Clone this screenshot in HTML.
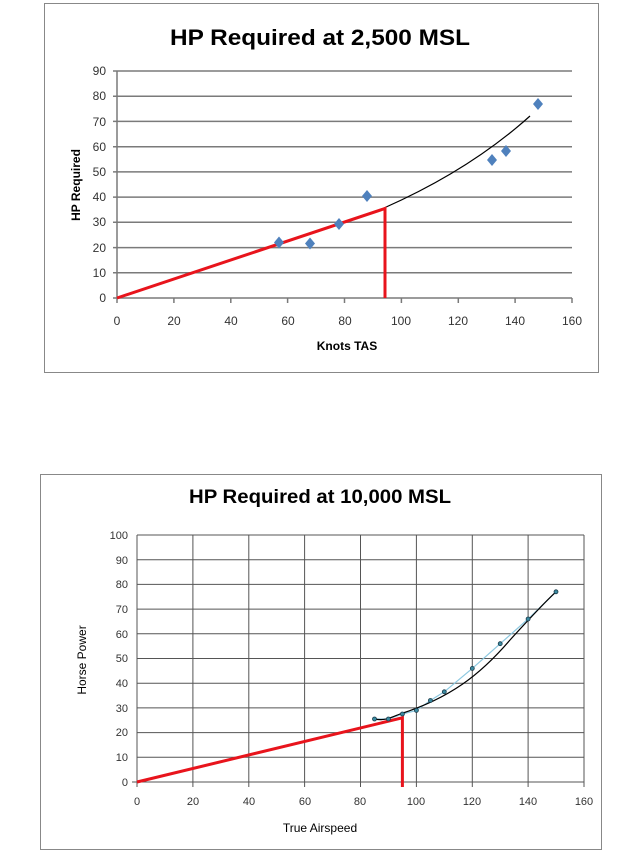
<!DOCTYPE html>
<html><head><meta charset="utf-8"><style>body{margin:0;background:#fff}svg{display:block}</style></head>
<body>
<svg width="637" height="856" xmlns="http://www.w3.org/2000/svg" font-family="Liberation Sans, sans-serif">
<rect width="637" height="856" fill="#fff"/>
<!-- Top chart -->
<rect x="44.5" y="3.5" width="554" height="369" fill="#fff" stroke="#888" stroke-width="1"/>
<text x="320" y="45" font-size="22" font-weight="bold" text-anchor="middle" fill="#000" textLength="300" lengthAdjust="spacingAndGlyphs">HP Required at 2,500 MSL</text>
<g stroke="#7a7a7a" stroke-width="1.5">
<line x1="113" y1="71" x2="572" y2="71"/><line x1="113" y1="96.2" x2="572" y2="96.2"/><line x1="113" y1="121.4" x2="572" y2="121.4"/><line x1="113" y1="146.7" x2="572" y2="146.7"/><line x1="113" y1="171.9" x2="572" y2="171.9"/><line x1="113" y1="197.1" x2="572" y2="197.1"/><line x1="113" y1="222.3" x2="572" y2="222.3"/><line x1="113" y1="247.6" x2="572" y2="247.6"/><line x1="113" y1="272.8" x2="572" y2="272.8"/><line x1="113" y1="298" x2="572" y2="298"/>
<line x1="117" y1="71" x2="117" y2="298"/>
<line x1="117" y1="298" x2="117" y2="303"/><line x1="173.9" y1="298" x2="173.9" y2="303"/><line x1="230.8" y1="298" x2="230.8" y2="303"/><line x1="287.6" y1="298" x2="287.6" y2="303"/><line x1="344.5" y1="298" x2="344.5" y2="303"/><line x1="401.4" y1="298" x2="401.4" y2="303"/><line x1="458.3" y1="298" x2="458.3" y2="303"/><line x1="515.1" y1="298" x2="515.1" y2="303"/><line x1="572" y1="298" x2="572" y2="303"/>
</g>
<g font-size="12" fill="#333" text-anchor="end">
<text x="106" y="75">90</text><text x="106" y="100">80</text><text x="106" y="126">70</text><text x="106" y="151">60</text><text x="106" y="176">50</text><text x="106" y="201">40</text><text x="106" y="226">30</text><text x="106" y="252">20</text><text x="106" y="277">10</text><text x="106" y="302">0</text>
</g>
<g font-size="12" fill="#333" text-anchor="middle">
<text x="117" y="325">0</text><text x="174" y="325">20</text><text x="231" y="325">40</text><text x="288" y="325">60</text><text x="345" y="325">80</text><text x="401" y="325">100</text><text x="458" y="325">120</text><text x="515" y="325">140</text><text x="572" y="325">160</text>
</g>
<text x="347" y="350" font-size="12" font-weight="bold" text-anchor="middle">Knots TAS</text>
<text transform="translate(80,185) rotate(-90)" font-size="12" font-weight="bold" text-anchor="middle">HP  Required</text>
<path d="M384,208 Q470,170 530,116" fill="none" stroke="#000" stroke-width="1.2"/>
<polyline points="117,298 385,208.5 385,298" fill="none" stroke="#e8141c" stroke-width="3"/>
<g fill="#4f81bd">
<path d="M279,236.5 l5,6 -5,6 -5,-6z"/><path d="M310,237.5 l5,6 -5,6 -5,-6z"/><path d="M339,218 l5,6 -5,6 -5,-6z"/><path d="M367,190 l5,6 -5,6 -5,-6z"/><path d="M492,154 l5,6 -5,6 -5,-6z"/><path d="M506,145 l5,6 -5,6 -5,-6z"/><path d="M538,98 l5,6 -5,6 -5,-6z"/>
</g>
<!-- Bottom chart -->
<rect x="40.5" y="474.5" width="561" height="375" fill="#fff" stroke="#888" stroke-width="1"/>
<text x="320" y="503" font-size="19" font-weight="bold" text-anchor="middle" fill="#000" textLength="262" lengthAdjust="spacingAndGlyphs">HP Required at 10,000 MSL</text>
<g stroke="#555" stroke-width="1">
<line x1="137" y1="535" x2="584" y2="535"/><line x1="137" y1="559.7" x2="584" y2="559.7"/><line x1="137" y1="584.4" x2="584" y2="584.4"/><line x1="137" y1="609.1" x2="584" y2="609.1"/><line x1="137" y1="633.8" x2="584" y2="633.8"/><line x1="137" y1="658.5" x2="584" y2="658.5"/><line x1="137" y1="683.2" x2="584" y2="683.2"/><line x1="137" y1="707.9" x2="584" y2="707.9"/><line x1="137" y1="732.6" x2="584" y2="732.6"/><line x1="137" y1="757.3" x2="584" y2="757.3"/><line x1="132" y1="782" x2="584" y2="782"/>
<line x1="137" y1="535" x2="137" y2="787"/><line x1="192.9" y1="535" x2="192.9" y2="787"/><line x1="248.8" y1="535" x2="248.8" y2="787"/><line x1="304.6" y1="535" x2="304.6" y2="787"/><line x1="360.5" y1="535" x2="360.5" y2="787"/><line x1="416.4" y1="535" x2="416.4" y2="787"/><line x1="472.3" y1="535" x2="472.3" y2="787"/><line x1="528.1" y1="535" x2="528.1" y2="787"/><line x1="584" y1="535" x2="584" y2="787"/>
</g>
<g font-size="11" fill="#333" text-anchor="end">
<text x="128" y="539">100</text><text x="128" y="564">90</text><text x="128" y="588">80</text><text x="128" y="613">70</text><text x="128" y="638">60</text><text x="128" y="662">50</text><text x="128" y="687">40</text><text x="128" y="712">30</text><text x="128" y="736">20</text><text x="128" y="761">10</text><text x="128" y="786">0</text>
</g>
<g font-size="11" fill="#333" text-anchor="middle">
<text x="137" y="805">0</text><text x="193" y="805">20</text><text x="249" y="805">40</text><text x="305" y="805">60</text><text x="360" y="805">80</text><text x="416" y="805">100</text><text x="472" y="805">120</text><text x="528" y="805">140</text><text x="584" y="805">160</text>
</g>
<text x="320" y="832" font-size="12" text-anchor="middle">True Airspeed</text>
<text transform="translate(86,660) rotate(-90)" font-size="12" text-anchor="middle">Horse Power</text>
<polyline points="374.5,719 388.4,719 402.4,714 416.4,710.4 430.4,700.5 444.3,691.8 472.3,668.4 500.2,643.7 528.1,619 556,591.8" fill="none" stroke="#8cc8e0" stroke-width="1.2"/>
<path d="M374.5,719 C385,721 390,718 400,714 C450,698 480,675 510,640 C530,618 545,602 556,591.8" fill="none" stroke="#000" stroke-width="1.2"/>
<polyline points="137,782 402.4,717.8 402.4,787" fill="none" stroke="#e8141c" stroke-width="3"/>
<g fill="#3a8aa0" stroke="#1a3a4a" stroke-width="0.8">
<circle cx="374.5" cy="719" r="2"/><circle cx="388.4" cy="719" r="2"/><circle cx="402.4" cy="714" r="2"/><circle cx="416.4" cy="710.4" r="2"/><circle cx="430.4" cy="700.5" r="2"/><circle cx="444.3" cy="691.8" r="2"/><circle cx="472.3" cy="668.4" r="2"/><circle cx="500.2" cy="643.7" r="2"/><circle cx="528.1" cy="619" r="2"/><circle cx="556" cy="591.8" r="2"/>
</g>
</svg>
</body></html>
